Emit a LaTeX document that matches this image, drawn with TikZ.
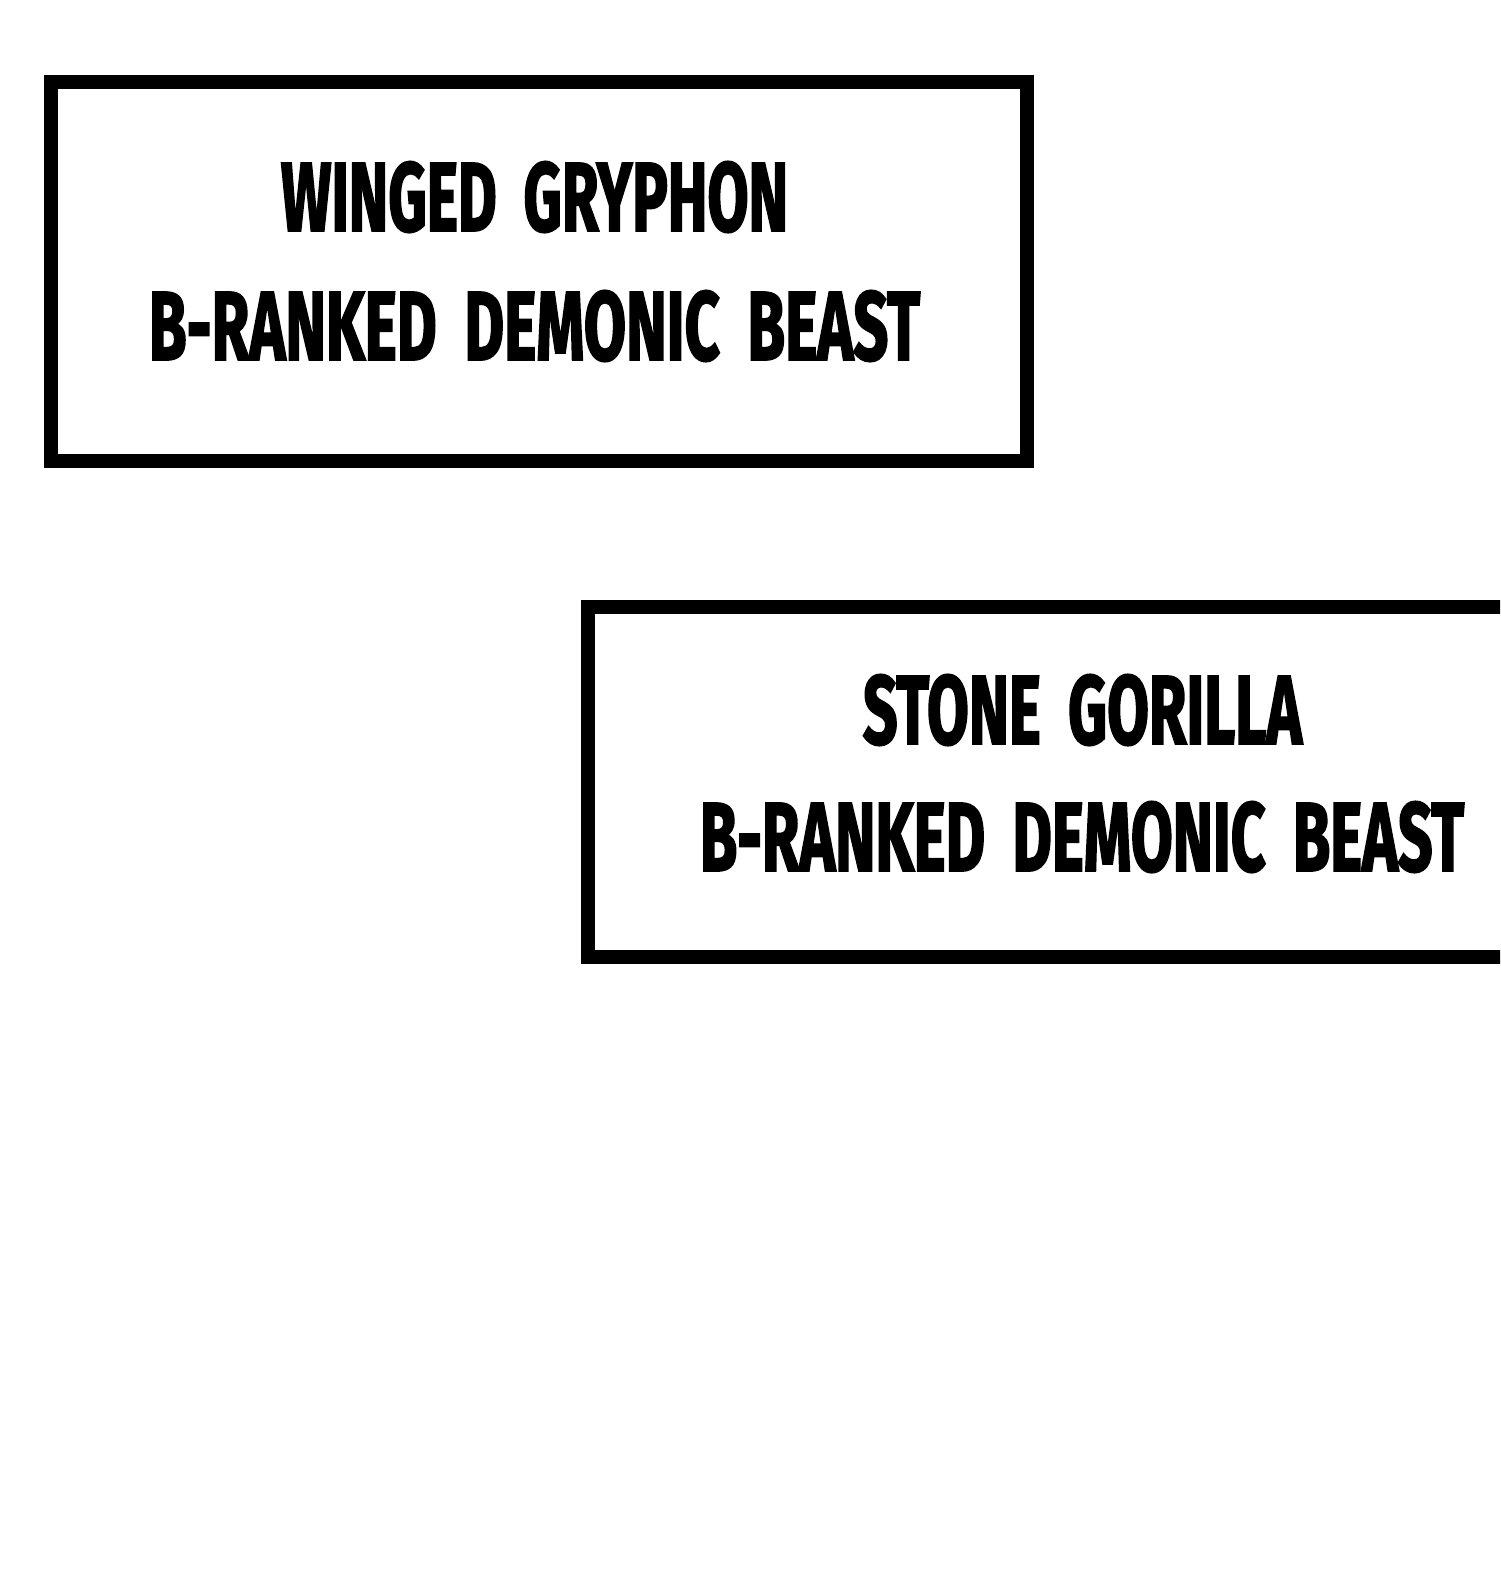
\documentclass[tikz,border=0pt]{standalone}
\usepackage{fontspec}
\setmainfont{Fira Sans}[BoldFeatures={FakeBold=2.5}]
\usepackage{tikz}
\usetikzlibrary{positioning}
\tikzset{panel/.style={draw=black,line width=7pt,fill=white,inner sep=0pt}}
\tikzset{caption/.style={inner sep=0pt,anchor=center,font=\bfseries}}
% squeeze a caption line to a given width and cap height
\newcommand{\capline}[2]{\resizebox{#1}{34.5pt}{#2}}
% the lettering has wide gaps between words
\newcommand{\wgap}{\hspace{0.45em}}

\begin{document}
\begin{tikzpicture}[x=0.5pt,y=-0.5pt]
  % page of 1500 x 1590 px
  \useasboundingbox (0,0) rectangle (1500,1590);
  \clip (0,0) rectangle (1500,1590);
  \fill[white] (0,0) rectangle (1500,1590);

  % first caption box
  \node (gryphon_box) [panel,minimum width=488pt,minimum height=189.5pt] at (538.5,271) {};
  \node (gryphon_name) [caption] at (534.5,197) {\capline{253.5pt}{WINGED\wgap GRYPHON}};
  \node (gryphon_rank) [caption] at (534.5,326) {\capline{385.5pt}{B-RANKED\wgap DEMONIC\wgap BEAST}};

  % second caption box, runs off the right edge
  \node (gorilla_box) [panel,minimum width=471.25pt,minimum height=175pt] at (1058.75,781.5) {};
  \node (gorilla_name) [caption] at (1082.5,710) {\capline{219.5pt}{STONE\wgap GORILLA}};
  \node (gorilla_rank) [caption] at (1082,837) {\capline{382pt}{B-RANKED\wgap DEMONIC\wgap BEAST}};
\end{tikzpicture}
\end{document}
